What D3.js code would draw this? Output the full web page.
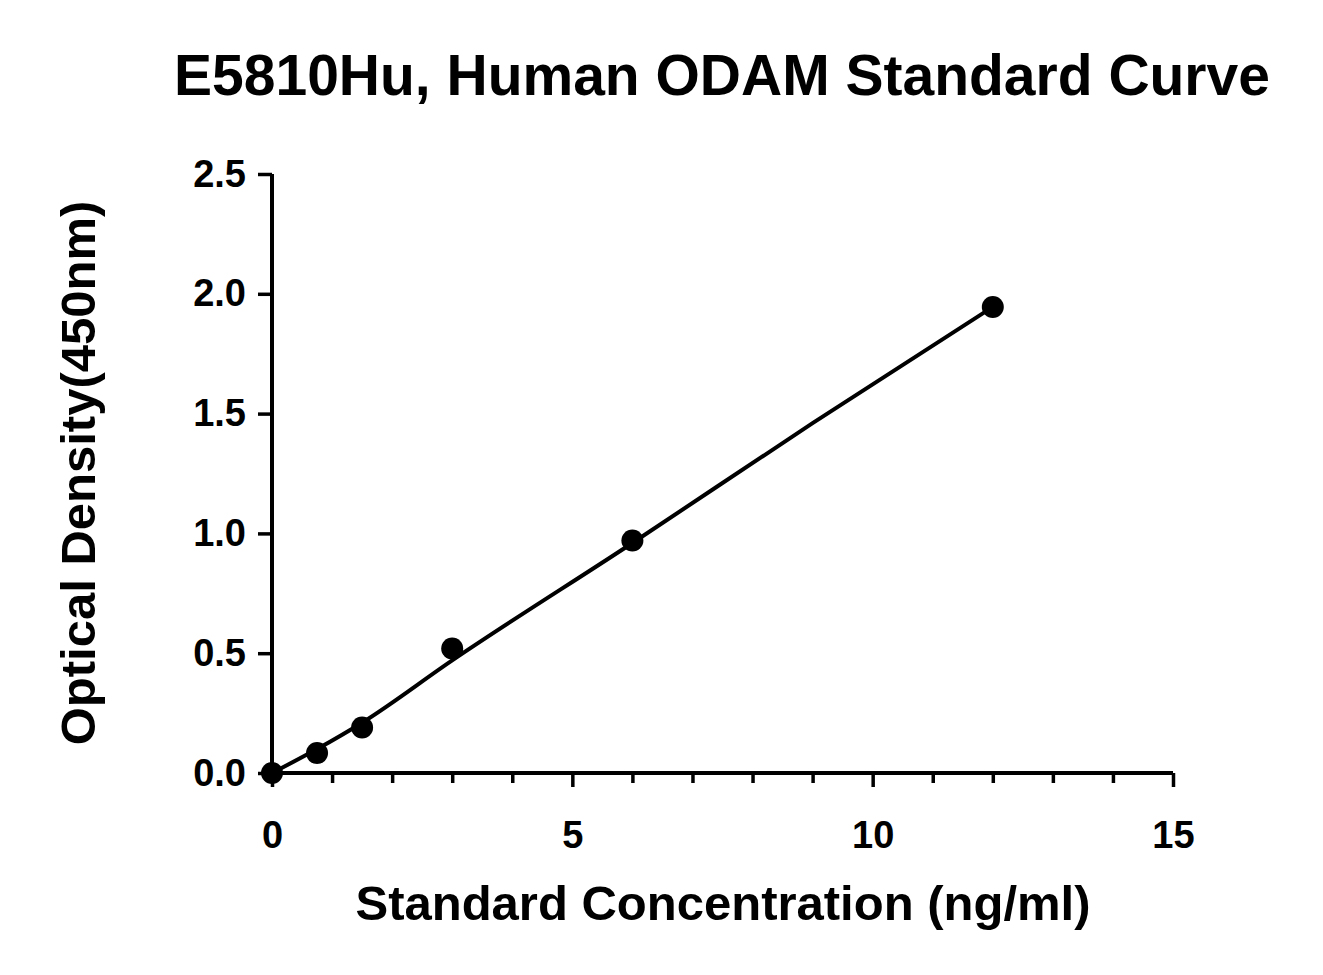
<!DOCTYPE html>
<html><head><meta charset="utf-8">
<script src="https://cdn.jsdelivr.net/npm/d3@7"></script>
<style>body{margin:0;background:#fff}text{font-family:"Liberation Sans",Arial,sans-serif;font-weight:bold;fill:#000}</style>
</head><body>
<svg id="c" width="1323" height="975"></svg>
<script>
const concentrations=[0,0.75,1.5,3,6,12];
const odValues=[0.0,0.083,0.19,0.52,0.97,1.945];
const fitX=[0,0.75,1.5,3,6,9,12];
const fitY=[0,0.1,0.21,0.47,0.96,1.46,1.945];
const xTicks=[0,5,10,15];
const yTicks=[0,0.5,1.0,1.5,2.0,2.5];
const svg=d3.select("#c");
const x=d3.scaleLinear().domain([0,15]).range([272,1173]);
const y=d3.scaleLinear().domain([0,2.5]).range([773,174]);
const gx=svg.append("g").attr("transform","translate(0,773)")
 .call(d3.axisBottom(x).tickValues(d3.range(0,16)).tickSize(10).tickFormat(d=>xTicks.includes(d)?d:""));
gx.selectAll(".tick line").attr("y2",d=>xTicks.includes(d)?14:10);
const gy=svg.append("g").attr("transform","translate(272,0)")
 .call(d3.axisLeft(y).tickValues(yTicks).tickSize(14).tickFormat(d3.format(".1f")));
[gx,gy].forEach(g=>{g.attr("font-size",null).attr("font-family",null);g.select(".domain").attr("stroke-width",4);g.selectAll(".tick line").attr("stroke-width",3.5);g.selectAll("text").attr("font-size",null).style("font-size","38px");});
gx.select(".domain").attr("d","M272,0H1173");
gy.select(".domain").attr("d","M0,773V174");
gx.selectAll("text").attr("y",null).attr("dy",null).attr("y",75);
gy.selectAll("text").attr("x",-26);
svg.append("path").datum(fitX.map((v,i)=>[v,fitY[i]]))
 .attr("d",d3.line().x(d=>x(d[0])).y(d=>y(d[1])).curve(d3.curveMonotoneX))
 .attr("fill","none").attr("stroke","#000").attr("stroke-width",4);
svg.selectAll("circle").data(concentrations).join("circle")
 .attr("cx",d=>x(d)).attr("cy",(d,i)=>y(odValues[i])).attr("r",11).attr("fill","#000");
svg.append("text").attr("x",722).attr("y",95).attr("text-anchor","middle").style("font-size","57px").text("E5810Hu, Human ODAM Standard Curve");
svg.append("text").attr("x",723).attr("y",920).attr("text-anchor","middle").style("font-size","49px").text("Standard Concentration (ng/ml)");
svg.append("text").attr("transform","translate(95,473) rotate(-90)").attr("text-anchor","middle").style("font-size","49px").text("Optical Density(450nm)");
</script></body></html>
